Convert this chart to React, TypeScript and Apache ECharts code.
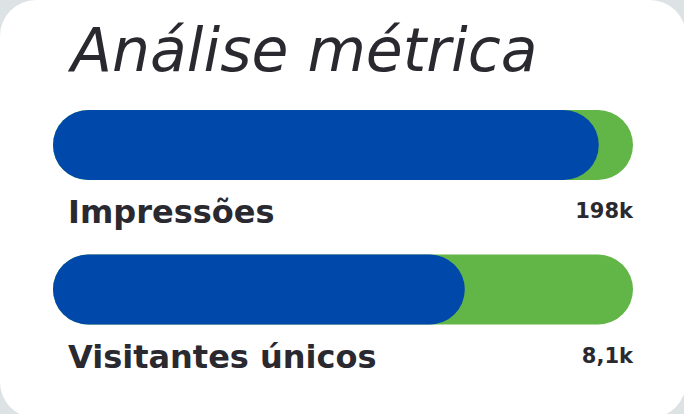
import React, { useEffect, useRef } from "react";
import * as echarts from "echarts";

const titleText = "Análise métrica";
const categories = ["Impressões", "Visitantes únicos"];
const valueLabels = ["198k", "8,1k"];
const fillPercent = [94.1, 71.0];
const trackMax = [100, 100];

const BLUE = "#0049ab";
const GREEN = "#62b647";
const DARK = "#2a2930";

export default function App() {
  const ref = useRef<HTMLDivElement>(null);
  useEffect(() => {
    const el = ref.current;
    if (!el) return;
    const chart = echarts.init(el, null, { renderer: "svg" });
    chart.setOption({
      animation: false,
      backgroundColor: "#dde2e4",
      graphic: [
        {
          type: "rect",
          z: -10,
          silent: true,
          shape: { x: 0, y: 0, width: 686, height: 418, r: 36 },
          style: { fill: "#ffffff" },
        },
      ],
      title: {
        text: titleText,
        left: 66,
        top: 15,
        textStyle: {
          fontFamily: "DejaVu Sans",
          fontStyle: "italic",
          fontWeight: 300,
          fontSize: 60,
          color: DARK,
        },
      },
      grid: { left: 53, right: 51, top: 72.75, bottom: 52.25 },
      xAxis: {
        type: "value",
        min: 0,
        max: 100,
        show: false,
      },
      yAxis: {
        type: "category",
        data: categories,
        inverse: true,
        show: false,
      },
      series: [
        {
          type: "bar",
          data: trackMax,
          barWidth: 70,
          barGap: "-100%",
          itemStyle: { color: GREEN, borderRadius: 35 },
          label: {
            show: true,
            position: ["100%", 101],
            align: "right",
            verticalAlign: "middle",
            formatter: (p: any) => valueLabels[p.dataIndex],
            fontFamily: "DejaVu Sans",
            fontWeight: "bold",
            fontSize: 21,
            color: DARK,
          },
          silent: true,
        },
        {
          type: "bar",
          data: fillPercent,
          barWidth: 70,
          itemStyle: { color: BLUE, borderRadius: 35 },
          label: {
            show: true,
            position: [15, 102],
            align: "left",
            verticalAlign: "middle",
            formatter: (p: any) => categories[p.dataIndex],
            fontFamily: "DejaVu Sans",
            fontWeight: "bold",
            fontSize: 32,
            color: DARK,
          },
          silent: true,
        },
      ],
    });
    return () => chart.dispose();
  }, []);
  return (
    <div
      ref={ref}
      style={{ position: "fixed", left: 0, top: 0, width: 684, height: 414 }}
    />
  );
}
